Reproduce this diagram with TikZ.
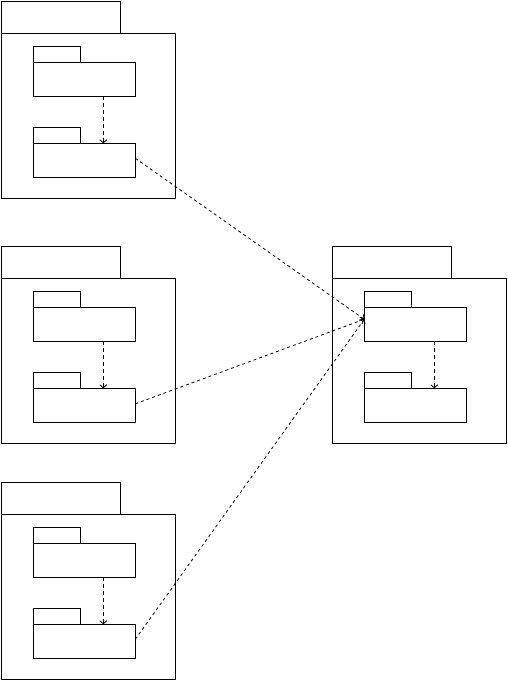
\documentclass[tikz,border=0pt]{standalone}
\usetikzlibrary{arrows.meta,calc}
\tikzset{
  box/.style={draw=black, line width=1pt, rectangle, inner sep=0pt, outer sep=0pt, anchor=north west},
  dep/.style={draw=black, line width=0.8pt, dash pattern=on 4pt off 3pt, -{Straight Barb[length=3pt,width=7pt]}},
  longdep/.style={draw=black, line width=0.8pt, dash pattern=on 3pt off 3pt, -{Straight Barb[length=3pt,width=7pt]}}
}
\newcommand{\umlpackage}[3]{%
  \node[box, minimum width=119pt, minimum height=32pt] (#1tab) at (#2,#3) {};
  \node[box, minimum width=174pt, minimum height=165pt] (#1body) at (#2,#3+32) {};
  \node[box, minimum width=47pt, minimum height=16pt] (#1atab) at (#2+32,#3+45) {};
  \node[box, minimum width=102pt, minimum height=34pt] (#1a) at (#2+32,#3+61) {};
  \node[box, minimum width=47pt, minimum height=16pt] (#1btab) at (#2+32,#3+126) {};
  \node[box, minimum width=102pt, minimum height=34pt] (#1b) at (#2+32,#3+142) {};
  \draw[dep] ($(#1a.south west)+(70,0)$) -- ($(#1b.north west)+(70,0)$);
}
\begin{document}
\begin{tikzpicture}[x=1pt,y=-1pt]
\useasboundingbox (0,0) rectangle (508,680);
\umlpackage{P}{1.3}{1.3}
\umlpackage{Q}{1.3}{246.3}
\umlpackage{S}{1.3}{482.3}
\umlpackage{R}{332.3}{246.3}
\coordinate (tgt) at ($(Ra.west)+(0,-5)$);
\draw[longdep] ($(Pb.east)+(0,-2)$) -- (tgt);
\draw[longdep] ($(Qb.east)+(0,-1.5)$) -- (tgt);
\draw[longdep] ($(Sb.east)+(0,-2)$) -- (tgt);
\end{tikzpicture}
\end{document}
